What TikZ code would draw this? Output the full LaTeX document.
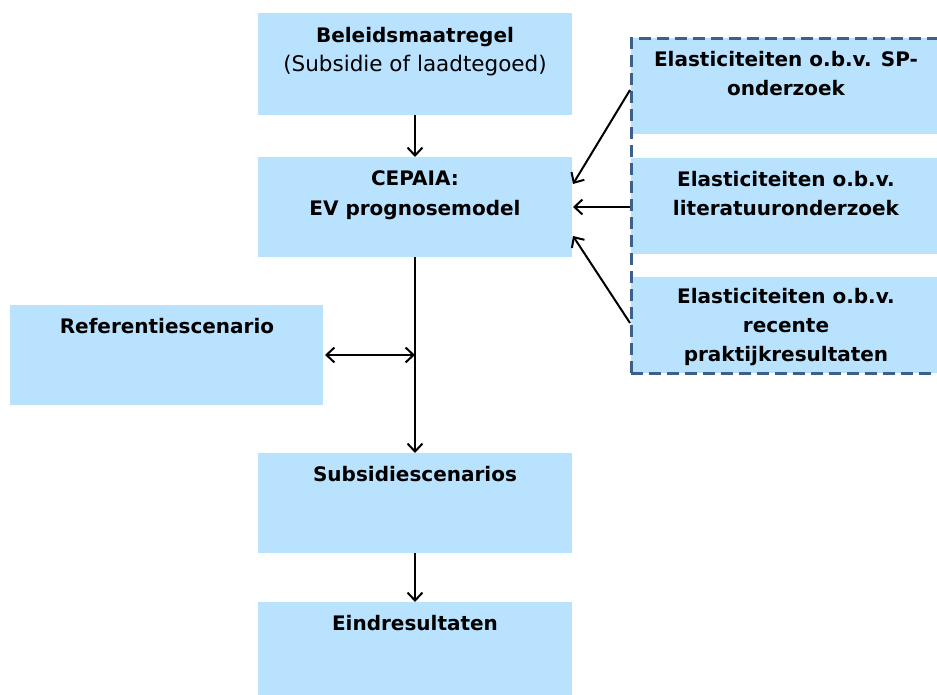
\documentclass[tikz,border=0pt]{standalone}
\usepackage{fontspec}
\setmainfont{DejaVu Sans}
\usetikzlibrary{arrows.meta,calc}
\definecolor{boxfill}{HTML}{B8E2FE}
\definecolor{dashcol}{HTML}{3D5F8C}
\tikzset{
  box/.style={fill=boxfill, draw=none, inner sep=0pt, outer sep=0pt},
  lbl/.style={font=\fontsize{20}{29}\selectfont\bfseries, align=center, anchor=base, inner sep=0pt},
  conn/.style={draw=black, line width=2pt, -{Straight Barb[length=8pt,width=15pt,line width=2pt]}},
  dbl/.style={draw=black, line width=2pt, {Straight Barb[length=8pt,width=15pt,line width=2pt]}-{Straight Barb[length=8pt,width=15pt,line width=2pt]}},
  dashframe/.style={draw=dashcol, line width=3pt, dash pattern=on 12pt off 6pt},
}
\begin{document}
\begin{tikzpicture}[x=1pt,y=-1pt]
\useasboundingbox (0,0) rectangle (937,695);
% boxes
\path[box] (258,13) rectangle (572,115);
\coordinate (b1s) at (415,115);
\path[box] (258,157) rectangle (572,257);
\coordinate (b2n) at (415,157); \coordinate (b2s) at (415,257);
\path[box] (10,305) rectangle (323,405);
\coordinate (ref) at (325,355);
\path[box] (258,453) rectangle (572,553);
\coordinate (b3n) at (415,453); \coordinate (b3s) at (415,553);
\path[box] (258,602) rectangle (572,700);
\coordinate (b4n) at (415,602);
\path[box] (631,38) rectangle (945,134);
\path[box] (631,158) rectangle (945,254);
\path[box] (631,277) rectangle (945,373);
\draw[dashframe] (631,373) -- (631,39) -- (950,39);
\draw[dashframe] (631,373) -- (950,373);
% labels (base anchor = last line baseline)
\node[lbl] (t1) at (415,72) {Beleidsmaatregel\\\mdseries\fontsize{21.5}{29}\selectfont(Subsidie of laadtegoed)};
\node[lbl] (t2) at (415,215) {CEPAIA:\\EV prognosemodel};
\node[lbl] (t3) at (167,333) {Referentiescenario};
\node[lbl] (t4) at (415,481) {Subsidiescenarios};
\node[lbl] (t5) at (415,630) {Eindresultaten};
\node[lbl] (r1) at (786,96) {Elasticiteiten o.b.v. SP-\\onderzoek};
\node[lbl] (r2) at (786,216) {Elasticiteiten o.b.v.\\literatuuronderzoek};
\node[lbl] (r3) at (786,361) {Elasticiteiten o.b.v.\\recente\\praktijkresultaten};
% connectors
\coordinate (c2w1) at (573,184);
\coordinate (c2w2) at (573,207);
\coordinate (c2w3) at (573,236);
\coordinate (e1) at (630,90);
\coordinate (e2) at (630,207);
\coordinate (e3) at (630,323);
\coordinate (mid) at (415,355);
\draw[conn] (b1s) -- (b2n);
\draw[conn] (e1) -- (c2w1);
\draw[conn] (e2) -- (c2w2);
\draw[conn] (e3) -- (c2w3);
\draw[conn] (b2s) -- (b3n);
\draw[dbl] (ref) -- (mid);
\draw[conn] (b3s) -- (b4n);
\end{tikzpicture}
\end{document}
